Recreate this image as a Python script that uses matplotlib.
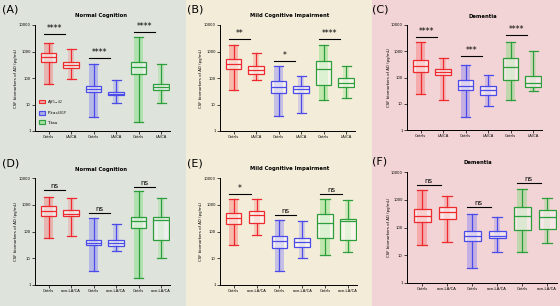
import matplotlib.pyplot as plt
from matplotlib.patches import Rectangle, Patch
from matplotlib.colors import to_rgba

W, H = 560, 306

# five-number summaries per box: min, q1, median, q3, max (pg/mL)
a_boxes = [[60, 415, 620, 910, 2150], [92, 232, 300, 390, 1200],
           [3.5, 29, 37, 50, 330], [11.4, 22, 26, 30, 82],
           [2.1, 141, 270, 400, 3400], [11.7, 35, 44, 58, 330]]
b_boxes = [[35, 213, 330, 510, 1760], [82, 141, 200, 292, 855],
           [3.6, 26.5, 44, 75, 275], [4.6, 27, 38, 51, 116],
           [14.8, 56, 219, 425, 1760], [18, 44, 65, 103, 275]]
c_boxes = [[22.8, 158, 282, 450, 2190], [13.9, 124, 166, 204, 537],
           [3.2, 33, 49, 78, 300], [8.5, 21.5, 32, 49, 124],
           [13.5, 78, 244, 537, 2330], [30.6, 42, 63, 110, 1055]]
d_boxes = [[57, 390, 580, 870, 1950], [68, 365, 470, 620, 1800],
           [3.2, 30, 37, 47, 330], [19, 29, 37, 47, 185],
           [1.9, 140, 250, 355, 3300], [10, 50, 270, 355, 1780]]
e_boxes = [[32, 190, 310, 480, 1620], [77, 213, 400, 585, 1660],
           [3.3, 24, 44, 69, 268], [10, 26, 41, 55, 245],
           [13.5, 55, 200, 437, 1660], [17, 47, 252, 300, 1510]]
f_boxes = [[23.6, 154, 265, 450, 2200], [29, 200, 370, 530, 1350],
           [3.45, 33, 51, 77, 297], [12.9, 41, 50, 75, 244],
           [13.6, 79, 250, 560, 2540], [28.6, 86, 245, 410, 1200]]

# significance marks and bar heights for the three pairs
a_sig, a_sig_y = ['****', '****', '****'], [4460, 550, 5600]
b_sig, b_sig_y = ['**', '*', '****'], [2870, 436, 2870]
c_sig, c_sig_y = ['****', '***', '****'], [3400, 640, 4060]
d_sig, d_sig_y = ['ns', 'ns', 'ns'], [3550, 480, 4800]
e_sig, e_sig_y = ['*', 'ns', 'ns'], [2570, 415, 2570]
f_sig, f_sig_y = ['ns', 'ns', 'ns'], [3340, 530, 4170]

ticks_top = ['Cntrls', 'LA/CA'] * 3
ticks_bottom = ['Cntrls', 'non-LA/CA'] * 3
titles = ['Normal Cognition', 'Mild Cognitive Impairment', 'Dementia']
biomarkers = [r'A$\beta_{1-42}$', r'P-tau$_{181P}$', r'T-tau']

colors = ['#ee2a2e', '#ee2a2e', '#4b4bea', '#4b4bea', '#2c9e3c', '#2c9e3c']
cloud = ['#ff4a4a', '#ff4a4a', '#5a5aff', '#5a5aff', '#4ddd4d', '#4ddd4d']
bg = ['#dee3dc', '#f3ecd9', '#f2d4d6']

fig = plt.figure(figsize=(W / 100, H / 100), dpi=100)
for i, x0 in enumerate([0, 186, 372]):
    x1 = [186, 372, 560][i]
    fig.add_artist(Rectangle((x0 / W, 0), (x1 - x0) / W, 1, transform=fig.transFigure,
                             facecolor=bg[i], edgecolor='none', zorder=0))


def px_axes(l, t, r, b):
    return fig.add_axes([l / W, 1 - b / H, (r - l) / W, (b - t) / H])


def panel(rect, boxes, sig, sig_y, labels, title, title_xy, letter, letter_xy, ylab_x):
    ax = px_axes(*rect)
    ax.set_facecolor('none')
    pos = list(range(1, 7))
    # light point cloud behind each box
    for p, bx, c in zip(pos, boxes, cloud):
        w = 0.4 if p % 2 == 1 else 0.26
        ax.bar(p, bx[4] - bx[0], bottom=bx[0], width=w, color=c,
               alpha=0.3 if p % 2 == 1 else 0.2, edgecolor='none', zorder=1)
    stats = [dict(whislo=b[0], q1=b[1], med=b[2], q3=b[3], whishi=b[4], fliers=[])
             for b in boxes]
    bp = ax.bxp(stats, positions=pos, widths=0.68, patch_artist=True, showfliers=False,
                capwidths=0.4, manage_ticks=False)
    for k, c in enumerate(colors):
        bp['boxes'][k].set(facecolor=(1, 1, 1, 0.45), edgecolor=c, linewidth=0.9, zorder=3)
        bp['medians'][k].set(color=c, linewidth=0.9, zorder=4)
        for j in (2 * k, 2 * k + 1):
            bp['whiskers'][j].set(color=c, linewidth=0.9)
            bp['caps'][j].set(color=c, linewidth=0.9)
    for n, (s, y) in enumerate(zip(sig, sig_y)):
        i = 1 + 2 * n
        ax.plot([i - 0.2, i + 0.75], [y, y], color='black', linewidth=0.8)
        ax.text(i + 0.27, y * 1.08, s, ha='center', va='bottom', fontsize=5.5 if s != 'ns' else 5)
    ax.set_yscale('log')
    ax.set_ylim(1, 10000)
    ax.set_xlim(0.4, 6.4)
    ax.set_yticks([1, 10, 100, 1000, 10000])
    ax.set_yticklabels(['1', '10', '100', '1000', '10000'])
    ax.minorticks_off()
    ax.set_xticks(pos)
    ax.set_xticklabels(labels)
    ax.tick_params(labelsize=2.7, length=2, width=0.5, pad=1.2)
    for sp in ('top', 'right'):
        ax.spines[sp].set_visible(False)
    for sp in ('left', 'bottom'):
        ax.spines[sp].set_linewidth(0.7)
    fig.text(title_xy[0] / W, 1 - title_xy[1] / H, title, ha='center', va='center',
             fontsize=3.8, fontweight='bold')
    fig.text(letter_xy[0] / W, 1 - letter_xy[1] / H, letter, ha='left', va='center', fontsize=8)
    fig.text(ylab_x / W, 1 - (rect[1] + rect[3]) / 2 / H, 'CSF biomarkers of AD (pg/mL)',
             rotation=90, ha='center', va='center', fontsize=2.8)
    return ax


ax_a = panel((35, 25, 170, 131), a_boxes, a_sig, a_sig_y, ticks_top, titles[0], (101, 16), '(A)', (2, 10), 16)
panel((220, 25, 355, 131), b_boxes, b_sig, b_sig_y, ticks_top, titles[1], (290, 16), '(B)', (187, 10), 201)
panel((407, 25, 542, 130), c_boxes, c_sig, c_sig_y, ticks_top, titles[2], (483, 16), '(C)', (372, 10), 389)
panel((35, 178, 170, 285), d_boxes, d_sig, d_sig_y, ticks_bottom, titles[0], (101, 169), '(D)', (2, 163), 16)
panel((220, 178, 357, 285), e_boxes, e_sig, e_sig_y, ticks_bottom, titles[1], (290, 168), '(E)', (187, 163), 201)
panel((407, 172, 557, 283), f_boxes, f_sig, f_sig_y, ticks_bottom, titles[2], (478, 163), '(F)', (372, 162), 389)

handles = [Patch(facecolor=to_rgba(cloud[2 * i], 0.4), edgecolor=colors[2 * i], linewidth=0.8, label=lab)
           for i, lab in enumerate(biomarkers)]
ax_a.legend(handles=handles, loc='upper left', bbox_to_anchor=(37 / W, 1 - 96 / H),
            bbox_transform=fig.transFigure, frameon=False, fontsize=3,
            handlelength=1.3, handleheight=0.9, labelspacing=0.8, borderpad=0, handletextpad=0.6)

fig.savefig('out.png', dpi=100)
